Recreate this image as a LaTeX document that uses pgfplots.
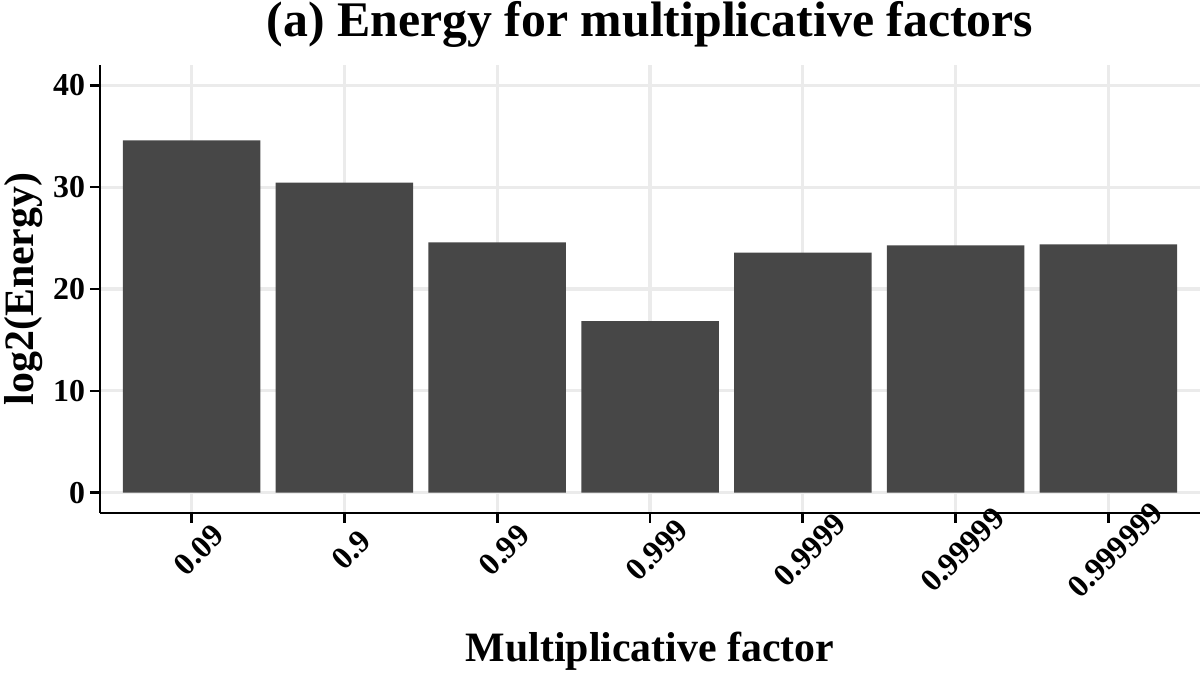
\documentclass[border=0pt]{standalone}
\usepackage{fontspec}
\setmainfont{Liberation Serif}
\usepackage{pgfplots}
\pgfplotsset{compat=1.18}
\definecolor{barcol}{HTML}{474747}
\definecolor{gridcol}{HTML}{EBEBEB}
\newcommand{\tickfont}{\bfseries\fontsize{16}{18}\selectfont}
\begin{document}
\begin{tikzpicture}
\begin{axis}[
  scale only axis, width=550bp, height=224bp,
  xmin=-0.6, xmax=6.6, ymin=-2, ymax=42,
  axis lines=left, axis line style={-, line width=1.3bp, black},
  xtick={0,1,2,3,4,5,6},
  xticklabels={0.09,0.9,0.99,0.999,0.9999,0.99999,0.999999},
  ytick={0,10,20,30,40},
  tick align=outside, major tick length=5bp,
  tick style={line width=1.3bp, black},
  grid=major, major grid style={line width=1.6bp, gridcol},
  /pgf/number format/assume math mode=true,
  yticklabel style={font=\tickfont, xshift=1bp},
  xticklabel style={font=\tickfont, xshift=3.5bp, yshift=-13.5bp, rotate=45, anchor=center},
  title={(a) Energy for multiplicative factors},
  title style={font=\bfseries\fontsize{25}{29}\selectfont, at={(axis description cs:0.5,1.038)}, anchor=base},
  xlabel={Multiplicative factor},
  xlabel style={font=\bfseries\fontsize{21}{25}\selectfont, at={(axis description cs:0.5,-0.3326)}, anchor=base},
  ylabel={log2(Energy)},
  ylabel style={font=\bfseries\fontsize{21}{25}\selectfont, at={(axis description cs:-0.0609,0.5)}, anchor=base},
  ybar, bar width=0.9,
]
\addplot[fill=barcol, draw=none] coordinates {
  (0,34.6) (1,30.45) (2,24.58) (3,16.85) (4,23.57) (5,24.28) (6,24.38)
};
\end{axis}
\pgfresetboundingbox
\path[use as bounding box] ([xshift=-50bp,yshift=-88.5bp]current axis.south west) rectangle ([yshift=32.5bp]current axis.north east);
\end{tikzpicture}
\end{document}
